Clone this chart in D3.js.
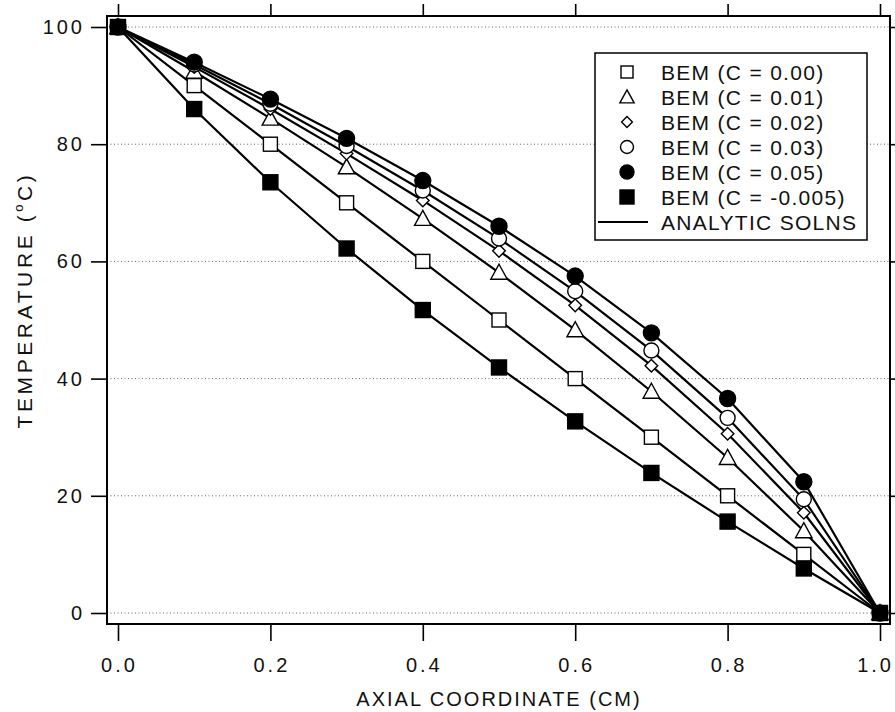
<!DOCTYPE html>
<html>
<head>
<meta charset="utf-8">
<script src="https://cdn.jsdelivr.net/npm/d3@7"></script>
<style>
  body { margin: 0; background: #fff; }
  text { font-family: "Liberation Sans", Arial, Helvetica, sans-serif; fill: #111; }
  .tick-label { font-size: 20px; letter-spacing: 3px; }
  .axis-title { font-size: 20px; letter-spacing: 2px; }
  .y-title { font-size: 21px; letter-spacing: 3.6px; }
  .legend-text { font-size: 21px; letter-spacing: 1.3px; }
  .grid { stroke: #666; stroke-width: 1; stroke-dasharray: 1,2.5; }
  .curve { fill: none; stroke: #000; stroke-width: 2.2; }
</style>
</head>
<body>
<div class="content"></div>
<script>
// DATA
var xVals = [0.0, 0.1, 0.2, 0.3, 0.4, 0.5, 0.6, 0.7, 0.8, 0.9, 1.0];
var tC000 = [100, 90.0, 80.0, 70.0, 60.0, 50.0, 40.0, 30.0, 20.0, 10.0, 0];
var tC001 = [100, 92.4, 84.4, 76.1, 67.3, 58.1, 48.3, 37.8, 26.5, 14.0, 0];
var tC002 = [100, 93.2, 86.0, 78.4, 70.4, 61.8, 52.5, 42.2, 30.6, 17.1, 0];
var tC003 = [100, 93.6, 86.9, 79.7, 72.1, 63.9, 54.9, 44.8, 33.3, 19.4, 0];
var tC005 = [100, 94.0, 87.7, 81.0, 73.8, 66.0, 57.5, 47.8, 36.6, 22.4, 0];
var tCm005 = [100, 86.0, 73.5, 62.2, 51.7, 41.9, 32.7, 23.9, 15.6, 7.6, 0];

var seriesNames = ['BEM (C = 0.00)', 'BEM (C = 0.01)', 'BEM (C = 0.02)',
                   'BEM (C = 0.03)', 'BEM (C = 0.05)', 'BEM (C = -0.005)'];
var seriesVals = [tC000, tC001, tC002, tC003, tC005, tCm005];
var seriesMarks = ['square', 'triangle', 'diamond', 'circle', 'dot', 'block'];
var lineLabel = 'ANALYTIC SOLNS';

var xTicks = [0, 0.2, 0.4, 0.6, 0.8, 1.0];
var yTicks = [0, 20, 40, 60, 80, 100];


// VARIABLES
var w = 895,
    h = 712,
    frame = {left: 107, top: 16, right: 890, bottom: 624};


// PREPARE SVG
var svg = d3.select('.content').append('svg')
    .attr('width', w)
    .attr('height', h);


// SCALES
var x = d3.scaleLinear().domain([0, 1]).range([118, 880]);
var y = d3.scaleLinear().domain([0, 100]).range([613, 27]);


// GRID
svg.selectAll('.grid')
    .data(yTicks)
    .enter()
    .append('line')
    .attr('class', 'grid')
    .attr('x1', frame.left)
    .attr('x2', frame.right)
    .attr('y1', function(d) { return y(d); })
    .attr('y2', function(d) { return y(d); });


// AXES (all four sides, ticks outside)
var axisStyle = function(g) {
    g.select('.domain').remove();
    g.selectAll('.tick line').attr('stroke', '#000').attr('stroke-width', 1.6);
    g.selectAll('.tick text').remove();
};

svg.append('g')
    .attr('transform', 'translate(0,' + frame.bottom + ')')
    .call(d3.axisBottom(x).tickValues(xTicks).tickSize(17))
    .call(axisStyle);

svg.append('g')
    .attr('transform', 'translate(0,' + frame.top + ')')
    .call(d3.axisTop(x).tickValues(xTicks).tickSize(12))
    .call(axisStyle);

svg.append('g')
    .attr('transform', 'translate(' + frame.left + ',0)')
    .call(d3.axisLeft(y).tickValues(yTicks).tickSize(16))
    .call(axisStyle);

svg.append('g')
    .attr('transform', 'translate(' + frame.right + ',0)')
    .call(d3.axisRight(y).tickValues(yTicks).tickSize(8))
    .call(axisStyle);

// tick labels (last one pulled in so it stays on the page)
svg.selectAll('.xlab')
    .data(xTicks)
    .enter()
    .append('text')
    .attr('class', 'tick-label')
    .attr('x', function(d) { return d === 1 ? 894 : x(d) + 1.5; })
    .attr('y', 672)
    .attr('text-anchor', function(d) { return d === 1 ? 'end' : 'middle'; })
    .text(function(d) { return d3.format('.1f')(d); });

svg.selectAll('.ylab')
    .data(yTicks)
    .enter()
    .append('text')
    .attr('class', 'tick-label')
    .attr('x', 85)
    .attr('y', function(d) { return y(d) + 7; })
    .attr('text-anchor', 'end')
    .text(function(d) { return d; });

// frame
svg.append('rect')
    .attr('x', frame.left)
    .attr('y', frame.top)
    .attr('width', frame.right - frame.left)
    .attr('height', frame.bottom - frame.top)
    .attr('fill', 'none')
    .attr('stroke', '#000')
    .attr('stroke-width', 2);


// AXIS TITLES
svg.append('text')
    .attr('class', 'axis-title')
    .attr('x', 499)
    .attr('y', 706)
    .attr('text-anchor', 'middle')
    .text('AXIAL COORDINATE (CM)');

var yt = svg.append('text')
    .attr('class', 'y-title')
    .attr('transform', 'translate(32,300) rotate(-90)')
    .attr('text-anchor', 'middle');
yt.append('tspan').text('TEMPERATURE (');
yt.append('tspan').attr('font-size', 13).attr('dy', -9).text('o');
yt.append('tspan').attr('dy', 9).text('C)');


// MARKERS
function drawMark(g, kind, size) {
    var s = size;
    if (kind === 'square' || kind === 'block') {
        g.append('rect')
            .attr('x', -s / 2).attr('y', -s / 2)
            .attr('width', s).attr('height', s)
            .attr('fill', kind === 'block' ? '#000' : '#fff')
            .attr('stroke', '#000').attr('stroke-width', 1.4);
    } else if (kind === 'circle' || kind === 'dot') {
        g.append('circle')
            .attr('r', s / 2)
            .attr('fill', kind === 'dot' ? '#000' : '#fff')
            .attr('stroke', '#000').attr('stroke-width', 1.4);
    } else if (kind === 'triangle') {
        g.append('path')
            .attr('d', 'M0,' + (-s * 0.55) + 'L' + (s * 0.55) + ',' + (s * 0.45) + 'L' + (-s * 0.55) + ',' + (s * 0.45) + 'Z')
            .attr('fill', '#fff')
            .attr('stroke', '#000').attr('stroke-width', 1.4);
    } else if (kind === 'diamond') {
        var d = s * 0.45;
        g.append('path')
            .attr('d', 'M0,' + (-d) + 'L' + d + ',0L0,' + d + 'L' + (-d) + ',0Z')
            .attr('fill', '#fff')
            .attr('stroke', '#000').attr('stroke-width', 1.4);
    }
}


// LINES (analytic solutions through the BEM points)
var line = d3.line()
    .x(function(d, i) { return x(xVals[i]); })
    .y(function(d) { return y(d); });

svg.selectAll('.curve')
    .data(seriesVals)
    .enter()
    .append('path')
    .attr('class', 'curve')
    .attr('d', line);


// POINTS
var markSize = {square: 14, triangle: 15, diamond: 14, circle: 15, dot: 16, block: 15};
seriesVals.forEach(function(vals, k) {
    var kind = seriesMarks[k];
    vals.forEach(function(v, i) {
        var g = svg.append('g')
            .attr('transform', 'translate(' + x(xVals[i]) + ',' + y(v) + ')');
        drawMark(g, kind, markSize[kind]);
    });
});


// LEGEND
var legend = svg.append('g');
legend.append('rect')
    .attr('x', 595).attr('y', 53)
    .attr('width', 272).attr('height', 187)
    .attr('fill', '#fff')
    .attr('stroke', '#000')
    .attr('stroke-width', 1.5);

var legMark = {square: 12, triangle: 13, diamond: 12, circle: 13, dot: 14, block: 14};
seriesNames.forEach(function(name, k) {
    var cy = 72 + k * 25;
    var g = legend.append('g').attr('transform', 'translate(627,' + cy + ')');
    drawMark(g, seriesMarks[k], legMark[seriesMarks[k]]);
    legend.append('text')
        .attr('class', 'legend-text')
        .attr('x', 661)
        .attr('y', cy + 8)
        .text(name);
});

legend.append('line')
    .attr('x1', 598).attr('x2', 648)
    .attr('y1', 72 + 6 * 25).attr('y2', 72 + 6 * 25)
    .attr('stroke', '#000')
    .attr('stroke-width', 2);
legend.append('text')
    .attr('class', 'legend-text')
    .attr('x', 661)
    .attr('y', 72 + 6 * 25 + 8)
    .text(lineLabel);
</script>
</body>
</html>
